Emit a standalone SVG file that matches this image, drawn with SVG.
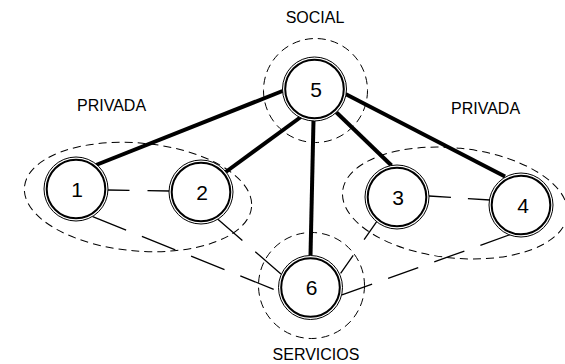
<svg xmlns="http://www.w3.org/2000/svg" width="565" height="364" viewBox="0 0 565 364">
<style>
.zone{fill:none;stroke:#000;stroke-width:1;stroke-dasharray:8 5}
.lbl{font-family:"Liberation Sans",Arial,sans-serif;font-size:16px;fill:#000}
.num{font-family:"Liberation Sans",Arial,sans-serif;font-size:21px;fill:#000;text-anchor:middle}
.ring{fill:#fff;stroke:#000;stroke-width:1}
.core{fill:#fff;stroke:#000;stroke-width:2}
.strong{stroke:#000;stroke-width:4;fill:none}
.weak{stroke:#000;stroke-width:1.3;fill:none}
</style>
<rect width="565" height="364" fill="#fff"/>
<g id="zones">
<ellipse class="zone" cx="138" cy="197" rx="114" ry="54" transform="rotate(5 138 197)"/>
<ellipse class="zone" cx="455" cy="203" rx="113" ry="55" transform="rotate(6 455 203)"/>
<circle class="zone" cx="315.5" cy="90.5" r="52"/>
<circle class="zone" cx="311.5" cy="285.5" r="53"/>
</g>
<g id="labels">
<text class="lbl" x="315" y="23" text-anchor="middle">SOCIAL</text>
<text class="lbl" x="77" y="111">PRIVADA</text>
<text class="lbl" x="451" y="114">PRIVADA</text>
<text class="lbl" x="316" y="360" text-anchor="middle">SERVICIOS</text>
</g>
<g id="connectors">
<line class="strong" x1="282.5" y1="91" x2="96" y2="165"/>
<line class="strong" x1="301.5" y1="116.5" x2="225" y2="172.5"/>
<line class="strong" x1="313.5" y1="120" x2="310.5" y2="255.5"/>
<line class="strong" x1="336" y1="112" x2="391.5" y2="165.5"/>
<line class="strong" x1="345.5" y1="94" x2="505" y2="176.5"/>
<line class="weak" x1="107.5" y1="190" x2="170" y2="191" stroke-dasharray="22 18"/>
<line class="weak" x1="429" y1="196" x2="490" y2="200" stroke-dasharray="22 17"/>
<line class="weak" x1="92.7" y1="216.7" x2="278" y2="291" stroke-dasharray="36 17"/>
<line class="weak" x1="216.7" y1="218.3" x2="281" y2="274" stroke-dasharray="34 17"/>
<line class="weak" x1="376.7" y1="221.7" x2="340.5" y2="273.5" stroke-dasharray="22 19"/>
<line class="weak" x1="510.5" y1="234.5" x2="341.5" y2="295" stroke-dasharray="32 17"/>
</g>
<g id="node1"><circle class="ring" cx="76" cy="189" r="32"/><circle class="core" cx="76" cy="189" r="29.3"/><text class="num" x="77" y="196.5">1</text></g>
<g id="node2"><circle class="ring" cx="201" cy="192" r="32"/><circle class="core" cx="201" cy="192" r="29.3"/><text class="num" x="202" y="199.5">2</text></g>
<g id="node3"><circle class="ring" cx="397" cy="197" r="32"/><circle class="core" cx="397" cy="197" r="29.3"/><text class="num" x="398" y="204.5">3</text></g>
<g id="node4"><circle class="ring" cx="521" cy="205" r="32"/><circle class="core" cx="521" cy="205" r="29.3"/><text class="num" x="523" y="212.5">4</text></g>
<g id="node5"><circle class="ring" cx="314.5" cy="89" r="32"/><circle class="core" cx="314.5" cy="89" r="29.3"/><text class="num" x="316" y="96.5">5</text></g>
<g id="node6"><circle class="ring" cx="310.5" cy="287.5" r="32"/><circle class="core" cx="310.5" cy="287.5" r="29.3"/><text class="num" x="311.5" y="295">6</text></g>
</svg>
